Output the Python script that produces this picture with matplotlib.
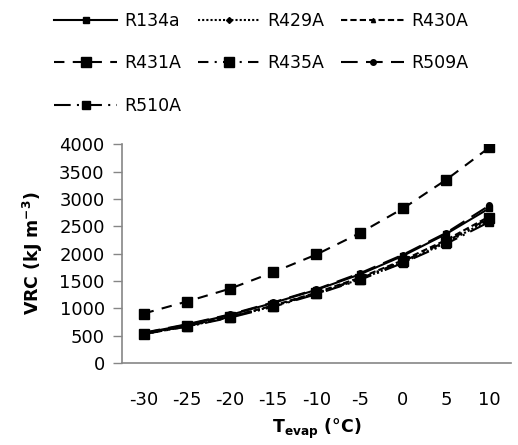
import numpy as np
import matplotlib
matplotlib.use("Agg")
import matplotlib.pyplot as plt

# temperaturas de evaporacion (categorias del eje x)
temps = ["-30", "-25", "-20", "-15", "-10", "-5", "0", "5", "10"]

# VRC (kJ m-3)
r134a = [550, 700, 880, 1100, 1340, 1620, 1960, 2360, 2830]
r429a = [530, 670, 840, 1040, 1270, 1530, 1840, 2200, 2620]
r430a = [540, 680, 850, 1050, 1290, 1560, 1880, 2250, 2680]
r431a = [905, 1125, 1360, 1660, 1985, 2375, 2825, 3350, 3940]
r435a = [535, 675, 845, 1045, 1280, 1545, 1860, 2220, 2650]
r509a = [555, 710, 890, 1110, 1350, 1640, 1980, 2380, 2880]
r510a = [530, 665, 830, 1030, 1260, 1520, 1830, 2180, 2580]

plt.rcParams["font.family"] = "DejaVu Sans"
plt.rcParams["mathtext.fontset"] = "dejavusans"

fig = plt.figure(figsize=(5.18, 4.45), dpi=100)
ax = fig.add_axes([0.2355, 0.184, 0.751, 0.492])

x = np.arange(len(temps))
k = dict(color="black", lw=1.5)

l1, = ax.plot(x, r134a, ls="-", marker="s", ms=4, label="R134a", **k)
l2, = ax.plot(x, r429a, ls=(0, (1, 1)), marker="D", ms=3, label="R429A", **k)
l3, = ax.plot(x, r430a, ls=(0, (3, 1.5)), marker="^", ms=3, label="R430A", **k)
l4, = ax.plot(x, r431a, ls=(0, (5, 4)), marker="s", ms=7, label="R431A", **k)
l5, = ax.plot(x, r435a, ls=(0, (5, 3, 1, 3)), marker="s", ms=7, label="R435A", **k)
l6, = ax.plot(x, r509a, ls=(0, (8, 4)), marker="o", ms=4, label="R509A", **k)
l7, = ax.plot(x, r510a, ls=(0, (8, 3, 1, 3)), marker="s", ms=6, label="R510A", **k)

ax.set_xlim(-0.5, len(temps) - 0.5)
ax.set_ylim(0, 4000)
ax.set_yticks(np.arange(0, 4001, 500))
ax.set_xticks(x)
ax.set_xticklabels(temps)
ax.tick_params(axis="x", length=0, pad=20, labelsize=13)
ax.tick_params(axis="y", length=6.5, width=1, color="#868686", labelsize=13, pad=6)

for s in ["top", "right"]:
    ax.spines[s].set_visible(False)
for s in ["left", "bottom"]:
    ax.spines[s].set_color("#868686")
    ax.spines[s].set_linewidth(1.2)

ax.set_xlabel(r"$\mathbf{T}_{\mathbf{evap}}$ (°C)", fontsize=12.5, fontweight="bold", labelpad=6)
ax.set_ylabel(r"VRC (kJ m$^{\mathbf{-3}}$)", fontsize=12.5, fontweight="bold", labelpad=10)

# orden por filas como en el original
hs = [l1, l4, l7, l2, l5, l3, l6]
fig.legend(handles=hs, loc="upper left", bbox_to_anchor=(0.105, 0.973), ncol=3, frameon=False,
           fontsize=12.5, handlelength=3.6, handletextpad=0.4, columnspacing=0.98,
           labelspacing=1.4, borderpad=0, borderaxespad=0)

fig.savefig("out.png", dpi=100)
